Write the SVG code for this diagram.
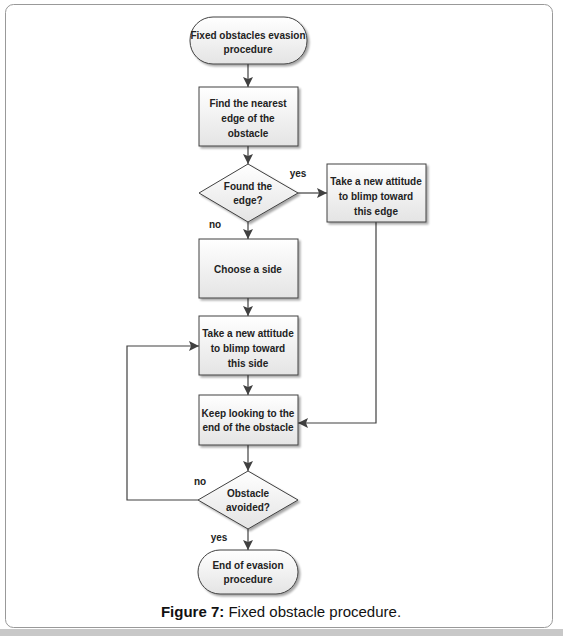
<svg xmlns="http://www.w3.org/2000/svg" width="563" height="636" viewBox="0 0 563 636">
<defs>
<linearGradient id="g" x1="0" y1="0" x2="0" y2="1">
<stop offset="0" stop-color="#ffffff"/>
<stop offset="1" stop-color="#e4e4e4"/>
</linearGradient>
<marker id="ah" markerWidth="10" markerHeight="10" refX="10" refY="5" orient="auto" markerUnits="userSpaceOnUse">
<path d="M0,0 L10,5 L0,10 L2,5 Z" fill="#404040"/>
</marker>
<filter id="sh" x="-10%" y="-10%" width="130%" height="130%">
<feGaussianBlur in="SourceAlpha" stdDeviation="1"/>
<feOffset dx="2" dy="2" result="o"/>
<feComponentTransfer><feFuncA type="linear" slope="0.35"/></feComponentTransfer>
<feMerge><feMergeNode/><feMergeNode in="SourceGraphic"/></feMerge>
</filter>
</defs>
<style>
.n{fill:url(#g);stroke:#404040;stroke-width:1;filter:url(#sh)}
.t{font-family:"Liberation Sans",Arial,sans-serif;font-weight:bold;font-size:10px;fill:#222;text-anchor:middle}
.c{fill:none;stroke:#404040;stroke-width:1.2}
</style>
<rect x="0" y="629" width="563" height="7" fill="#c8c8c8"/>
<rect x="5.5" y="4.5" width="547" height="623" rx="8" fill="#fff" stroke="#999" stroke-width="1"/>

<g id="connectors">
<path class="c" d="M248,64 V87" marker-end="url(#ah)"/>
<path class="c" d="M248,146 V164" marker-end="url(#ah)"/>
<path class="c" d="M298,193 H327" marker-end="url(#ah)"/>
<path class="c" d="M248,222 V239" marker-end="url(#ah)"/>
<path class="c" d="M376,222 V423 H298" marker-end="url(#ah)"/>
<path class="c" d="M248,298 V316" marker-end="url(#ah)"/>
<path class="c" d="M248,375 V395" marker-end="url(#ah)"/>
<path class="c" d="M248,445 V471" marker-end="url(#ah)"/>
<path class="c" d="M198,500 H127 V346 H199" marker-end="url(#ah)"/>
<path class="c" d="M248,529 V550" marker-end="url(#ah)"/>
<text class="t" x="298" y="177">yes</text>
<text class="t" x="215" y="228">no</text>
<text class="t" x="200" y="485">no</text>
<text class="t" x="219" y="541">yes</text>
</g>

<g id="start">
<rect class="n" x="190" y="17" width="117" height="47" rx="23"/>
<text class="t" x="248" y="39">Fixed obstacles evasion</text>
<text class="t" x="248" y="53">procedure</text>
</g>
<g id="find">
<rect class="n" x="199" y="87" width="99" height="59"/>
<text class="t" x="248" y="107">Find the nearest</text>
<text class="t" x="248" y="122">edge of the</text>
<text class="t" x="248" y="137">obstacle</text>
</g>
<g id="found">
<polygon class="n" points="248,164 298,193 248,222 199,193"/>
<text class="t" x="248" y="190">Found the</text>
<text class="t" x="248" y="204">edge?</text>
</g>
<g id="edge">
<rect class="n" x="327" y="164" width="99" height="58"/>
<text class="t" x="376" y="185">Take a new attitude</text>
<text class="t" x="376" y="200">to blimp toward</text>
<text class="t" x="376" y="215">this edge</text>
</g>
<g id="choose">
<rect class="n" x="199" y="239" width="99" height="59"/>
<text class="t" x="248" y="273">Choose a side</text>
</g>
<g id="side">
<rect class="n" x="199" y="316" width="99" height="59"/>
<text class="t" x="248" y="337">Take a new attitude</text>
<text class="t" x="248" y="352">to blimp toward</text>
<text class="t" x="248" y="367">this side</text>
</g>
<g id="keep">
<rect class="n" x="199" y="395" width="99" height="50"/>
<text class="t" x="248" y="417">Keep looking to the</text>
<text class="t" x="248" y="431">end of the obstacle</text>
</g>
<g id="avoided">
<polygon class="n" points="248,471 298,500 248,529 198,500"/>
<text class="t" x="248" y="497">Obstacle</text>
<text class="t" x="248" y="511">avoided?</text>
</g>
<g id="end">
<rect class="n" x="198" y="550" width="100" height="44" rx="22"/>
<text class="t" x="248" y="569">End of evasion</text>
<text class="t" x="248" y="583">procedure</text>
</g>
<text x="281" y="617" font-family="Liberation Sans,Arial,sans-serif" font-size="15" text-anchor="middle" fill="#111"><tspan font-weight="bold">Figure 7:</tspan> Fixed obstacle procedure.</text>
</svg>
